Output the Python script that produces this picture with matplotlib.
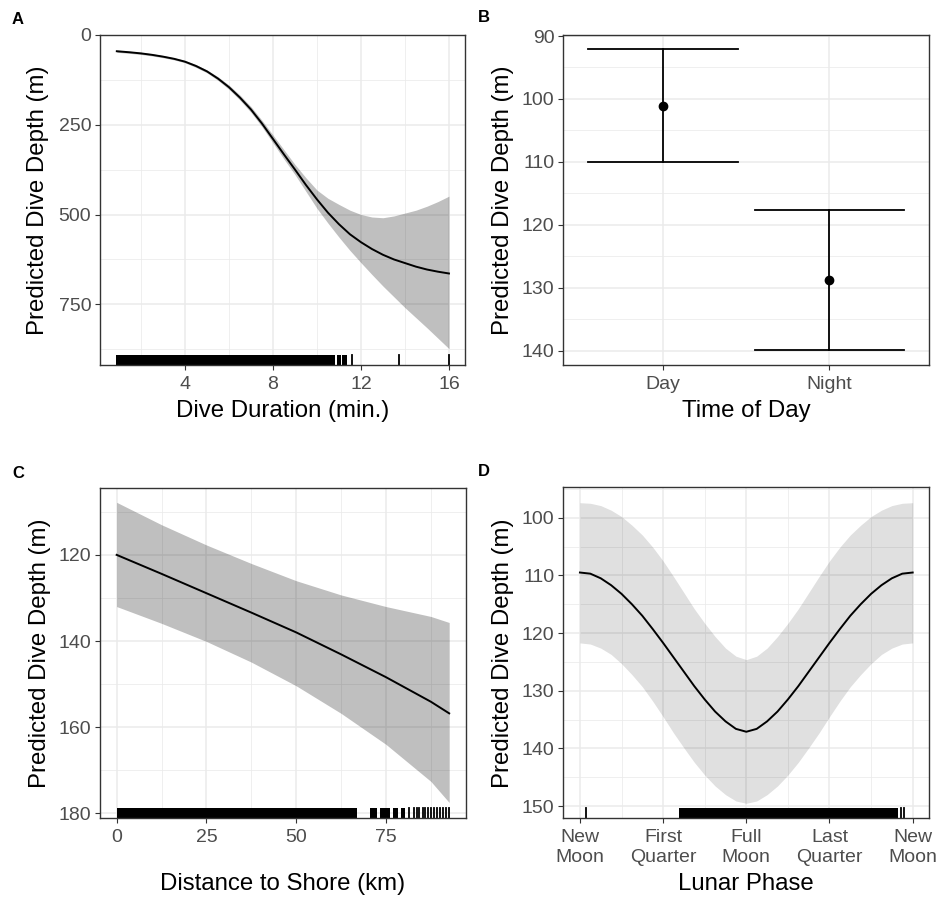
import matplotlib
matplotlib.use("Agg")
import matplotlib.pyplot as plt
from matplotlib.ticker import FixedLocator

plt.rcParams['font.family'] = ['Liberation Sans', 'DejaVu Sans']

# ---------------- Data ----------------
# Panel A: dive duration (min) vs predicted depth (m)
dur_x = [0.9, 1.5, 2, 2.5, 3, 3.5, 4, 4.5, 5, 5.5, 6, 6.5, 7, 7.5, 8, 8.5, 9, 9.5,
         10, 10.5, 11, 11.5, 12, 12.5, 13, 13.5, 14, 14.5, 15, 15.5, 16]
dur_fit = [46, 49, 52, 56, 61, 67, 75, 87, 102, 122, 146, 175, 208, 247, 290, 333, 375, 418,
           458, 495, 527, 555, 577, 596, 612, 625, 635, 645, 653, 659, 664]
dur_lo = [43, 46, 49, 53, 58, 64, 72, 83, 98, 117, 140, 168, 200, 238, 279, 320, 361, 398,
          432, 455, 472, 488, 500, 507, 509, 504, 496, 488, 477, 464, 449]
dur_hi = [49, 52, 55, 59, 64, 70, 78, 91, 106, 127, 152, 182, 216, 256, 301, 346, 389, 436,
          483, 524, 563, 600, 634, 667, 699, 729, 759, 787, 815, 844, 873]
dur_rug_spans = [(0.85, 10.8), (10.9, 11.1), (11.15, 11.36)]
dur_rug_single = [11.6, 13.75, 16.0]

# Panel B: time of day
tod_labels = ["Day", "Night"]
tod_fit = [101.2, 128.8]
tod_lo = [92.1, 117.6]
tod_hi = [110.1, 139.9]

# Panel C: distance to shore (km)
dist_x = [0, 12.5, 25, 37.5, 50, 62.5, 75, 87.5, 92.6]
dist_fit = [120.0, 124.4, 128.9, 133.4, 138.0, 143.1, 148.4, 154.1, 156.8]
dist_lo = [107.8, 113.0, 117.7, 122.0, 126.0, 129.3, 132.0, 134.3, 135.7]
dist_hi = [132.0, 135.9, 140.1, 144.9, 150.4, 156.8, 164.0, 172.6, 177.5]
dist_rug_spans = [(0, 66.9), (70.5, 72.5), (73.2, 76.0), (77.0, 78.3), (79.3, 80.2)]
dist_rug_single = [81.5, 82.8, 83.5, 84.3, 85.2, 86.0, 86.7, 87.6, 88.4, 89.2, 90.0, 91.0, 91.8, 92.6]

# Panel D: lunar phase (fraction of cycle)
lun_x = [0, 0.03125, 0.0625, 0.09375, 0.125, 0.15625, 0.1875, 0.21875, 0.25,
         0.28125, 0.3125, 0.34375, 0.375, 0.40625, 0.4375, 0.46875, 0.5,
         0.53125, 0.5625, 0.59375, 0.625, 0.65625, 0.6875, 0.71875, 0.75,
         0.78125, 0.8125, 0.84375, 0.875, 0.90625, 0.9375, 0.96875, 1.0]
lun_fit = [109.5, 109.7, 110.5, 111.7, 113.2, 115.0, 117.0, 119.3, 121.7,
           124.2, 126.7, 129.2, 131.5, 133.6, 135.3, 136.6, 137.1,
           136.6, 135.3, 133.6, 131.5, 129.2, 126.7, 124.2, 121.7,
           119.3, 117.0, 115.0, 113.2, 111.7, 110.5, 109.7, 109.5]
lun_lo = [97.4, 97.5, 97.9, 98.7, 99.8, 101.3, 103.0, 105.1, 107.5,
          110.2, 113.0, 115.8, 118.3, 120.6, 122.6, 124.0, 124.6,
          124.0, 122.6, 120.6, 118.3, 115.8, 113.0, 110.2, 107.5,
          105.1, 103.0, 101.3, 99.8, 98.7, 97.9, 97.5, 97.4]
lun_hi = [121.7, 121.9, 122.6, 123.7, 125.3, 127.2, 129.3, 131.8, 134.5,
          137.3, 139.9, 142.4, 144.6, 146.5, 148.0, 149.1, 149.5,
          149.1, 148.0, 146.5, 144.6, 142.4, 139.9, 137.3, 134.5,
          131.8, 129.3, 127.2, 125.3, 123.7, 122.6, 121.9, 121.7]
lun_ticks = [0, 0.25, 0.5, 0.75, 1.0]
lun_labels = ["New\nMoon", "First\nQuarter", "Full\nMoon", "Last\nQuarter", "New\nMoon"]
lun_rug_spans = [(0.299, 0.956)]
lun_rug_single = [0.018, 0.966, 0.974]

# ---------------- Figure ----------------
W, H = 938, 899
fig = plt.figure(figsize=(W / 100, H / 100), dpi=100)

def add_ax(x0, y0, x1, y1):
    return fig.add_axes([x0 / W, 1 - y1 / H, (x1 - x0) / W, (y1 - y0) / H])

GRID = '#EBEBEB'
TICKC = '#4D4D4D'
LBL = 14
TTL = 17.3

def style(ax, xmaj, xmin, ymaj, ymin):
    ax.set_facecolor('white')
    for s in ax.spines.values():
        s.set_color('#333333')
        s.set_linewidth(1.0)
        s.set_zorder(10)
    ax.xaxis.set_major_locator(FixedLocator(xmaj))
    ax.yaxis.set_major_locator(FixedLocator(ymaj))
    for v in xmaj:
        ax.axvline(v, color=GRID, lw=1.1, zorder=0)
    for v in xmin:
        ax.axvline(v, color=GRID, lw=0.55, zorder=0)
    for v in ymaj:
        ax.axhline(v, color=GRID, lw=1.1, zorder=0)
    for v in ymin:
        ax.axhline(v, color=GRID, lw=0.55, zorder=0)
    ax.tick_params(axis='both', which='major', length=3.8, width=0.8, color='#333333',
                   labelcolor=TICKC, labelsize=LBL, pad=2.5)
    ax.tick_params(axis='x', pad=4)

def rug(ax, spans, singles):
    for a, b in spans:
        ax.axvspan(a, b, ymin=0, ymax=0.03, color='black', lw=0, zorder=5)
    for v in singles:
        ax.axvline(v, ymin=0, ymax=0.03, color='black', lw=1.3, zorder=5)

# Panel A
axA = add_ax(100, 34.7, 465, 365)
axA.set_xlim(0.136, 16.73)
axA.set_ylim(918.5, 0)
style(axA, [4, 8, 12, 16], [2, 6, 10, 14], [0, 250, 500, 750], [125, 375, 625, 875])
axA.fill_between(dur_x, dur_lo, dur_hi, color='black', alpha=0.25, lw=0, zorder=2)
axA.plot(dur_x, dur_fit, color='black', lw=1.4, zorder=3)
rug(axA, dur_rug_spans, dur_rug_single)

# Panel B
axB = add_ax(563.3, 35, 929.3, 365)
axB.set_xlim(0.4, 2.6)
axB.set_ylim(142.3, 89.84)
style(axB, [1, 2], [], [90, 100, 110, 120, 130, 140], [95, 105, 115, 125, 135])
axB.set_xticklabels(tod_labels)
xs = [1, 2]
for i in range(2):
    axB.plot([xs[i], xs[i]], [tod_lo[i], tod_hi[i]], color='black', lw=1.3, zorder=3)
    axB.plot([xs[i] - 0.45, xs[i] + 0.45], [tod_lo[i], tod_lo[i]], color='black', lw=1.3, zorder=3)
    axB.plot([xs[i] - 0.45, xs[i] + 0.45], [tod_hi[i], tod_hi[i]], color='black', lw=1.3, zorder=3)
axB.plot(xs, tod_fit, 'o', color='black', ms=6, zorder=4)

# Panel C
axC = add_ax(100, 487.7, 465.7, 818.3)
axC.set_xlim(-4.64, 97.2)
axC.set_ylim(181.17, 104.4)
style(axC, [0, 25, 50, 75], [12.5, 37.5, 62.5, 87.5], [120, 140, 160, 180], [110, 130, 150, 170])
axC.fill_between(dist_x, dist_lo, dist_hi, color='black', alpha=0.25, lw=0, zorder=2)
axC.plot(dist_x, dist_fit, color='black', lw=1.4, zorder=3)
rug(axC, dist_rug_spans, dist_rug_single)

# Panel D
axD = add_ax(563.3, 487.3, 929.3, 818.3)
axD.set_xlim(-0.05, 1.05)
axD.set_ylim(152.1, 94.73)
style(axD, lun_ticks, [0.125, 0.375, 0.625, 0.875], [100, 110, 120, 130, 140, 150],
      [95, 105, 115, 125, 135, 145])
axD.set_xticklabels(lun_labels, linespacing=1.25)
axD.fill_between(lun_x, lun_lo, lun_hi, color='black', alpha=0.12, lw=0, zorder=2)
axD.plot(lun_x, lun_fit, color='black', lw=1.4, zorder=3)
rug(axD, lun_rug_spans, lun_rug_single)

# Axis titles
ylab = "Predicted Dive Depth (m)"
fig.text(38 / W, 1 - 200 / H, ylab, rotation=90, ha='center', va='center', fontsize=TTL)
fig.text(502.5 / W, 1 - 200 / H, ylab, rotation=90, ha='center', va='center', fontsize=TTL)
fig.text(40 / W, 1 - 653 / H, ylab, rotation=90, ha='center', va='center', fontsize=TTL)
fig.text(502.5 / W, 1 - 653 / H, ylab, rotation=90, ha='center', va='center', fontsize=TTL)

fig.text(282.5 / W, 1 - 411 / H, "Dive Duration (min.)", ha='center', va='center', fontsize=TTL)
fig.text(746.3 / W, 1 - 411 / H, "Time of Day", ha='center', va='center', fontsize=TTL)
fig.text(282.8 / W, 1 - 884 / H, "Distance to Shore (km)", ha='center', va='center', fontsize=TTL)
fig.text(746.3 / W, 1 - 884 / H, "Lunar Phase", ha='center', va='center', fontsize=TTL)

# Panel tags
for t, x, y in [("A", 18, 19), ("B", 484, 17), ("C", 18, 473), ("D", 484, 471)]:
    fig.text(x / W, 1 - y / H, t, ha='center', va='center', fontsize=12, fontweight='bold')

fig.savefig("out.png", dpi=100)
